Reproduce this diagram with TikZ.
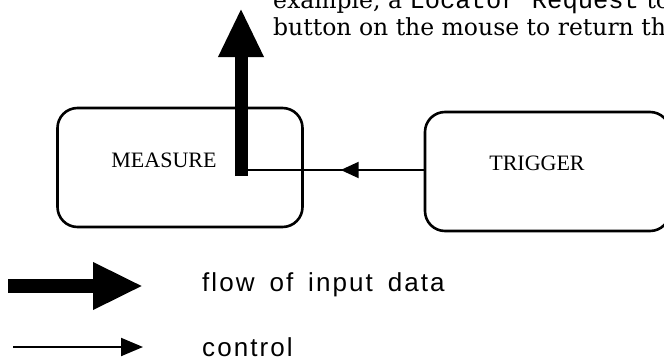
\documentclass[tikz,border=0pt]{standalone}
\usepackage{fontspec}
\usetikzlibrary{arrows.meta,decorations.markings}
\newfontfamily\bodyfont{DejaVu Serif}
\newfontfamily\boxfont{Liberation Serif}
\newfontfamily\legendfont[WordSpace=1.6,LetterSpace=8]{Liberation Sans}
\newfontfamily\codefont{Liberation Mono}

\begin{document}
\begin{tikzpicture}[x=1pt,y=-1pt,
  block/.style={draw, line width=2.6pt, rounded corners=20pt, inner sep=0pt,
    minimum width=245pt, minimum height=119pt},
  blocklabel/.style={font=\boxfont\fontsize{22}{24}\selectfont, inner sep=0pt},
  bodytext/.style={font=\bodyfont\fontsize{23.5}{28}\selectfont, anchor=base west, inner sep=0pt},
  legendtext/.style={font=\legendfont\fontsize{26}{30}\selectfont, anchor=west, inner sep=0pt},
  dataflow/.style={line width=13pt, -{Triangle[length=49pt,width=42pt]}},
  dataflowkey/.style={line width=14pt, -{Triangle[length=50pt,width=44pt]}},
  ctrl/.style={line width=2pt},
  ctrlmid/.style={ctrl, postaction={decorate}, decoration={markings,
    mark=at position 83pt with {\arrow{Triangle[length=18pt,width=16pt]}}}},
  ctrlkey/.style={line width=2pt, -{Triangle[length=22pt,width=18pt]}}]

\useasboundingbox (0,0) rectangle (664,362);
\clip (0,0) rectangle (664,362);

% running text above the figure
\node[bodytext] (line1) at (273,8)
  {example, a {\codefont\fontsize{25.5}{28}\selectfont Locator Request} to};
\node[bodytext] (line2) at (273,35) {button on the mouse to return the};

% the two processes
\node[block] (measure) at (180,167.5) {};
\node[block] (trigger) at (547.5,171.5) {};
\node[blocklabel] (measurelabel) at (164,160) {MEASURE};
\node[blocklabel] (triggerlabel) at (537,163) {TRIGGER};

% input data leaving MEASURE
\coordinate (dbase) at (241,176);
\coordinate (dtip) at (241,8);
\draw[dataflow] (dbase) -- (dtip);

% control from TRIGGER to MEASURE
\coordinate (cend) at (247.5,170);
\draw[ctrlmid] (trigger.west |- cend) -- (cend);

% key
\coordinate (keyA) at (8,286);
\coordinate (keyB) at (143,286);
\draw[dataflowkey] (keyA) -- (keyB);
\coordinate (keyC) at (13,347);
\coordinate (keyD) at (143,347);
\draw[ctrlkey] (keyC) -- (keyD);
\node[legendtext] (flowtext) at (202,285) {flow of input data};
\node[legendtext] (ctrltext) at (202,347) {control};
\end{tikzpicture}
\end{document}
